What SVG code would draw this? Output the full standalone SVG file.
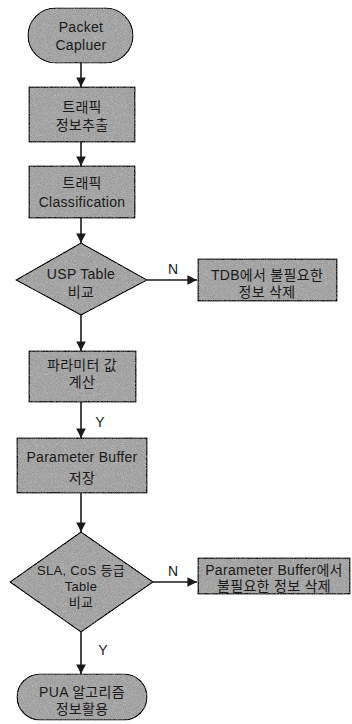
<svg xmlns="http://www.w3.org/2000/svg" width="352" height="724" viewBox="0 0 352 724">
<style>
.shape{fill:#b4b4b4;stroke:#2a2a2a;stroke-width:1.2;filter:url(#grain)}
.t{font-family:"Liberation Sans","Noto Sans CJK KR",Arial,sans-serif;font-size:14px;letter-spacing:0.3px;fill:#1a1a1a;text-anchor:middle}
.s{font-size:13px}
.lbl{font-family:"Liberation Sans",Arial,sans-serif;font-size:14px;fill:#1a1a1a;text-anchor:middle}
.conn{stroke:#1a1a1a;stroke-width:1.6;fill:none;marker-end:url(#arr)}
</style>
<defs>
<marker id="arr" viewBox="0 0 10 10" refX="10" refY="5" markerWidth="6" markerHeight="6" markerUnits="strokeWidth" orient="auto">
<path d="M0,0 L10,5 L0,10 z" fill="#1a1a1a"/>
</marker>
<filter id="grain" x="-5%" y="-5%" width="110%" height="110%">
<feTurbulence type="fractalNoise" baseFrequency="1.1" numOctaves="2" seed="4" result="noise"/>
<feColorMatrix in="noise" type="saturate" values="0" result="g"/>
<feComposite in="g" in2="SourceGraphic" operator="arithmetic" k1="0" k2="0.6" k3="0.9" k4="-0.22" result="mix"/>
<feComposite in="mix" in2="SourceGraphic" operator="in"/>
</filter>
</defs>
<g id="connectors">
<line class="conn" x1="81" y1="63" x2="81" y2="87"/>
<line class="conn" x1="81" y1="142" x2="81" y2="166"/>
<line class="conn" x1="81" y1="218" x2="81" y2="243"/>
<line class="conn" x1="147" y1="280" x2="197" y2="280"/>
<line class="conn" x1="81" y1="315" x2="81" y2="351"/>
<line class="conn" x1="81" y1="402" x2="81" y2="438"/>
<line class="conn" x1="81" y1="493" x2="81" y2="532"/>
<line class="conn" x1="153" y1="582" x2="197" y2="582"/>
<line class="conn" x1="81" y1="632" x2="81" y2="674"/>
<text class="lbl" x="173" y="274">N</text>
<text class="lbl" x="100" y="427">Y</text>
<text class="lbl" x="173" y="576">N</text>
<text class="lbl" x="103" y="655">Y</text>
</g>
<g id="start">
<rect class="shape" x="28" y="8" width="105" height="55" rx="27.5"/>
<text class="t" x="81" y="32">Packet</text>
<text class="t" x="81" y="50">Capluer</text>
</g>
<g id="extract">
<rect class="shape" x="29" y="87" width="106" height="55"/>
<text class="t" x="82" y="112">트래픽</text>
<text class="t" x="82" y="130">정보추출</text>
</g>
<g id="classify">
<rect class="shape" x="29" y="166" width="106" height="52"/>
<text class="t" x="82" y="188">트래픽</text>
<text class="t" x="82" y="207">Classification</text>
</g>
<g id="usp">
<polygon class="shape" points="81,243 147,280 81,315 16,280"/>
<text class="t" x="81" y="279">USP Table</text>
<text class="t" x="81" y="297">비교</text>
</g>
<g id="tdb">
<rect class="shape" x="198" y="259" width="139" height="42"/>
<text class="t" x="267" y="280">TDB에서 불필요한</text>
<text class="t" x="267" y="297">정보 삭제</text>
</g>
<g id="param">
<rect class="shape" x="29" y="351" width="107" height="51"/>
<text class="t" x="82" y="370">파라미터 값</text>
<text class="t" x="82" y="387">계산</text>
</g>
<g id="buffer">
<rect class="shape" x="17" y="438" width="130" height="55"/>
<text class="t" x="82" y="462">Parameter Buffer</text>
<text class="t" x="82" y="483">저장</text>
</g>
<g id="sla">
<polygon class="shape" points="81,532 153,582 81,632 10,582"/>
<text class="t s" x="81" y="575">SLA, CoS 등급</text>
<text class="t s" x="81" y="591">Table</text>
<text class="t s" x="81" y="607">비교</text>
</g>
<g id="bufdel">
<rect class="shape" x="198" y="558" width="152" height="36"/>
<text class="t" x="274" y="575">Parameter Buffer에서</text>
<text class="t" x="274" y="591">불필요한 정보 삭제</text>
</g>
<g id="end">
<rect class="shape" x="17" y="674" width="130" height="46" rx="23"/>
<text class="t" x="82" y="697">PUA 알고리즘</text>
<text class="t" x="82" y="714">정보활용</text>
</g>
</svg>
